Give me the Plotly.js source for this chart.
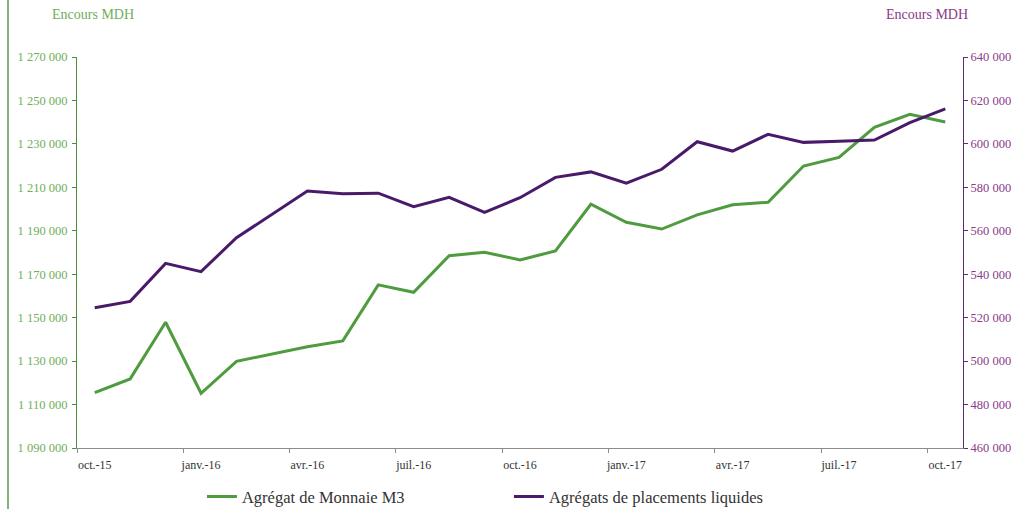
<!DOCTYPE html>
<html>
<head>
<meta charset="utf-8">
<script src="https://cdn.plot.ly/plotly-3.0.1.min.js"></script>
<style>html,body{margin:0;padding:0;background:#fff;}#chart{width:1015px;height:509px;}</style>
</head>
<body>
<div id="chart"></div>
<script>
const months = ["oct.-15","nov.-15","déc.-15","janv.-16","févr.-16","mars-16","avr.-16","mai-16","juin-16","juil.-16","août-16","sept.-16","oct.-16","nov.-16","déc.-16","janv.-17","févr.-17","mars-17","avr.-17","mai-17","juin-17","juil.-17","août-17","sept.-17","oct.-17"];
const m3 = [1115500,1121800,1147900,1115200,1129900,1133400,1136600,1139300,1165100,1161700,1178500,1180100,1176600,1180700,1202200,1193900,1190800,1197300,1202000,1203100,1219800,1223800,1237600,1243600,1240100];
const placements = [524600,527500,545000,541200,556800,567500,578300,577000,577300,571100,575400,568500,575200,584600,587100,581900,588300,601000,596700,604400,600700,601200,601800,609800,616100];
const leftTicks = [1090000,1110000,1130000,1150000,1170000,1190000,1210000,1230000,1250000,1270000];
const rightTicks = [460000,480000,500000,520000,540000,560000,580000,600000,620000,640000];

const FONT = "Liberation Serif";
const GREEN = "#4f9b3f", PURPLE = "#4a1a6a";
const XGRAY = "#8c8c8c", YGREEN = "#4f8f3f", YPURPLE = "#5e2a78";

// tick boundaries every third month (category index - 0.5)
const boundaryTicks = months.map((m, i) => i - 0.5).filter((v, i) => i % 3 === 0);

const traces = [
  {x: months, y: m3, type: "scatter", mode: "lines", name: "Agrégat de Monnaie M3",
   line: {color: GREEN, width: 3}, xaxis: "x", yaxis: "y"},
  {x: months, y: placements, type: "scatter", mode: "lines", name: "Agrégats de placements liquides",
   line: {color: PURPLE, width: 3}, xaxis: "x", yaxis: "y2"}
];

const innerTicks = {showticklabels: false, ticks: "inside", ticklen: 4, showline: false, showgrid: false, zeroline: false, automargin: false};

const layout = {
  width: 1015, height: 509,
  margin: {l: 77, r: 52, t: 57, b: 61, autoexpand: false},
  paper_bgcolor: "#fff", plot_bgcolor: "#fff",
  separators: ", ",
  font: {family: FONT, size: 11, color: "#333"},
  showlegend: true,
  legend: {orientation: "h", x: 0.141, y: -0.125, xanchor: "left", yanchor: "middle",
           font: {family: FONT, size: 16.5, color: "#333"}, entrywidth: 262, entrywidthmode: "pixels"},
  xaxis: {type: "category", categoryorder: "array", categoryarray: months,
          range: [-0.5, 24.5], dtick: 3, tick0: 0, tickson: "boundaries", tickangle: 0, automargin: false,
          ticks: "outside", ticklen: 4, tickcolor: XGRAY, ticklabelstandoff: 6,
          showline: true, linecolor: XGRAY, linewidth: 1, showgrid: false, zeroline: false,
          tickfont: {family: FONT, size: 12, color: "#333"}},
  xaxis2: Object.assign({overlaying: "x", anchor: "y", range: [-0.5, 24.5], tickvals: boundaryTicks, tickcolor: XGRAY}, innerTicks),
  yaxis: {range: [1090000, 1270000], tickvals: leftTicks, tickformat: ",.0f", automargin: false,
          ticks: "outside", ticklen: 4, tickcolor: YGREEN, ticklabelstandoff: 2,
          showline: true, linecolor: YGREEN, linewidth: 1, showgrid: false, zeroline: false,
          tickfont: {family: FONT, size: 12.5, color: "#6fae5b"}},
  yaxis2: {range: [460000, 640000], tickvals: rightTicks, tickformat: ",.0f", overlaying: "y", side: "right", automargin: false,
          ticks: "outside", ticklen: 4, tickcolor: YPURPLE,
          showline: true, linecolor: YPURPLE, linewidth: 1, showgrid: false, zeroline: false,
          tickfont: {family: FONT, size: 12.5, color: "#8a3a8a"}},
  yaxis3: Object.assign({overlaying: "y", anchor: "x", side: "left", range: [1090000, 1270000], tickvals: leftTicks, tickcolor: YGREEN}, innerTicks),
  yaxis4: Object.assign({overlaying: "y", anchor: "x", side: "right", range: [460000, 640000], tickvals: rightTicks, tickcolor: YPURPLE}, innerTicks),
  annotations: [
    {text: "Encours MDH", xref: "paper", yref: "paper", x: (50-77)/886, y: 1 + (57-15)/391, xanchor: "left", yanchor: "middle",
     showarrow: false, font: {family: FONT, size: 14, color: "#6fae5b"}},
    {text: "Encours MDH", xref: "paper", yref: "paper", x: (970-77)/886, y: 1 + (57-15)/391, xanchor: "right", yanchor: "middle",
     showarrow: false, font: {family: FONT, size: 14, color: "#8a3a8a"}}
  ],
  shapes: [
    {type: "line", xref: "paper", yref: "paper", x0: (8-77)/886, x1: (8-77)/886, y0: 1 + 57/391, y1: -61/391,
     line: {color: "#5a9a48", width: 1.5}}
  ]
};

Plotly.newPlot("chart", traces, layout, {displayModeBar: false, staticPlot: true});
</script>
</body>
</html>
